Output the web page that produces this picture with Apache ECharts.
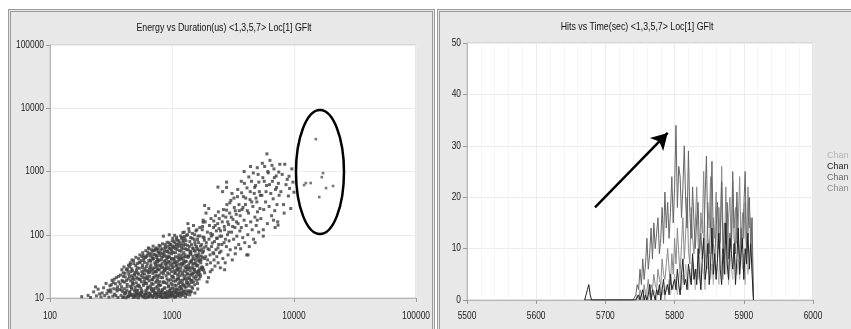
<!DOCTYPE html>
<html><head><meta charset="utf-8">
<script src="https://cdn.jsdelivr.net/npm/echarts@6/dist/echarts.min.js"></script>
<style>
html,body{margin:0;padding:0;background:#fff;overflow:hidden}
.panel{position:absolute;top:9px;height:340px;background:#e8e8e8;border:3px double #9a9a9a;box-sizing:border-box}
#c{position:absolute;left:0;top:0;width:851px;height:329px}
</style>
</head><body>
<div class="panel" style="left:8px;width:427px"></div>
<div class="panel" style="left:437px;width:420px"></div>
<div id="c"></div>
<script>
const FONT = '"Liberation Sans", Arial, sans-serif';
const leftTitle = 'Energy vs Duration(us) <1,3,5,7> Loc[1] GFlt';
const rightTitle = 'Hits vs Time(sec) <1,3,5,7> Loc[1] GFlt';
const durationTicks = [100, 1000, 10000, 100000];
const energyTicks = [10, 100, 1000, 10000, 100000];
const timeTicks = [5500, 5600, 5700, 5800, 5900, 6000];
const hitsTicks = [0, 10, 20, 30, 40, 50];

// Energy vs Duration scatter points [duration(us), energy]
const scatterPoints = [
[182,10.5],[205,11],[215,10.2],[228,12.5],[240,10.8],[248,13.8],[255,11.6],[236,15],
[262,10.4],[268,12],[275,14.5],[281,10.9],[288,17],[293,11.8],[299,13.2],[304,10.3],[310,15.6],[316,12.4],[322,19],[327,10.7],[333,14],[338,11.5],[344,16.8],[350,21],[355,12.9],[361,10.2],[366,18],[372,13.6],[378,23],[358,15],[347,10.9],[330,17.5],[313,13.5],
[382,11],[386,15],[390,19],[394,12.6],[398,25],[402,10.4],[406,14],[410,17.8],[414,21.5],[418,11.9],[422,28],[426,13.2],[430,16.4],[434,10.6],[438,20],[442,24],[446,12.2],[450,31],[454,15.3],[458,18.6],[462,10.9],[466,13.8],[470,22.5],[474,27],[478,11.4],[482,16.9],[486,35],[490,19.6],[494,12.8],[498,14.9],[502,25.5],[506,10.3],[510,17.4],[514,21],[518,30],[522,13.3],[526,11.7],[530,23.8],[534,16],[538,37],[542,19.9],[546,12.1],[440,33],[400,22],[460,26],[420,10.1],[480,20.8],[500,11.2],[520,15.5],[430,29],
[552,10.8],[556,14.2],[561,18],[565,26],[569,12.5],[574,33],[578,21],[583,15.8],[587,40],[592,11.3],[596,24],[601,29],[605,17.2],[610,13.1],[614,45],[619,20.3],[623,10.2],[628,35],[632,15],[637,26.5],[641,12],[646,50],[650,18.7],[655,22],[660,31],[664,11],[669,38],[673,14.3],[678,27],[682,19.5],[687,55],[691,10.5],[696,24.5],[700,16.5],[705,42],[709,13],[714,30],[718,21.5],[723,12.3],[727,58],[732,34],[736,17.7],[741,11.7],[745,26],[750,47],[754,15.2],[759,20],[763,37],[768,10.7],[772,28],[777,13.9],[781,52],[786,23],[790,18.2],[795,32],[580,47],[640,62],[700,66],[760,41],[620,17],[680,13.4],[740,22.8],
[802,11.5],[808,16],[814,25],[820,40],[826,13],[832,60],[838,21],[844,31],[850,10.3],[856,18],[862,48],[868,27],[874,14.5],[880,70],[886,35],[892,12],[898,22.5],[904,55],[910,17],[916,29],[922,44],[928,10.8],[934,38],[940,15.5],[946,75],[952,24],[958,13.2],[964,33],[970,62],[976,19.5],[982,11.2],[988,42],[994,26],[1000,16.2],[1006,80],[1012,30],[1018,12.5],[1024,52],[1030,21],[1036,36],[1042,14],[1048,65],[1054,24.5],[1060,10.6],[1066,45],[1072,18.5],[1078,32],[1084,85],[1090,13.5],[1096,27.5],[1102,58],[1108,20],[1114,38],[1120,11.8],[1126,72],[1132,16.8],[1138,48],[1144,25],[1150,34],[1156,14.8],[850,95],[950,100],[1050,98],[880,28],[1000,41],[1100,29],
[1165,12],[1172,19],[1180,30],[1188,55],[1196,14],[1204,42],[1212,90],[1220,23],[1228,35],[1236,16],[1244,68],[1252,27],[1260,110],[1268,13],[1276,48],[1284,20],[1292,38],[1300,80],[1308,15],[1316,30],[1324,58],[1332,24],[1340,100],[1348,17.5],[1356,44],[1364,33],[1372,125],[1380,21],[1388,65],[1396,13],[1404,52],[1412,27],[1420,90],[1428,19],[1436,38],[1444,70],[1452,15],[1460,30],[1468,105],[1476,24],[1484,46],[1492,60],[1500,18],[1510,35],[1520,85],[1530,28],[1540,12],[1550,55],[1560,40],[1570,115],[1580,22],[1590,65],[1600,32],[1610,47],[1620,17],[1630,95],[1640,26],[1650,75],[1660,38],[1670,20],[1680,56],[1690,130],[1200,62],[1300,45],[1400,36],[1500,140],[1350,150],
[1710,22],[1730,40],[1750,70],[1770,120],[1790,30],[1810,55],[1830,90],[1850,25],[1870,160],[1890,45],[1910,75],[1930,34],[1950,110],[1970,60],[1990,21],[2010,85],[2030,140],[2050,48],[2070,36],[2090,180],[2110,65],[2130,28],[2150,100],[2170,52],[2190,130],[2210,40],[2230,78],[2250,32],[2270,200],[2290,58],[2310,115],[2330,45],[2350,88],[2370,150],[2390,36],[2410,70],[2430,125],[2450,52],[2470,95],[1800,170],[1900,220],[2000,260],[2100,95],[2200,165],[2400,230],[1760,28],[1940,18],[2060,26],[1850,290],
[2490,30],[2520,55],[2550,95],[2580,160],[2610,42],[2640,250],[2670,75],[2700,120],[2730,36],[2760,190],[2790,65],[2820,300],[2850,100],[2880,48],[2910,145],[2940,80],[2970,220],[3000,58],[3040,350],[3080,110],[3120,40],[3160,175],[3200,85],[3240,270],[3280,130],[3320,62],[3360,210],[3400,95],[3440,400],[3480,150],[3520,70],[3560,240],[3600,115],[2800,560],[2600,480],[3100,450],[2700,28],[3300,50],
[3650,60],[3700,130],[3750,250],[3800,90],[3850,400],[3900,170],[3950,75],[4000,300],[4060,140],[4120,550],[4180,100],[4240,220],[4300,65],[4360,360],[4420,160],[4480,700],[4540,120],[4600,280],[4660,85],[4720,450],[4780,190],[4840,600],[4900,140],[4960,330],[5020,230],[5080,900],[5140,110],[5200,480],[5260,260],[3900,1000],[4400,1200],[4200,48],[4800,75],[3700,700],[5000,170],
[5350,180],[5450,420],[5550,800],[5650,250],[5750,1200],[5850,330],[5950,600],[6050,150],[6150,950],[6250,280],[6350,1500],[6450,450],[6550,200],[6650,700],[6750,370],[6850,1100],[6950,240],[7050,520],[7150,850],[7250,300],[7350,160],[7450,650],[7550,420],[7650,1300],[5600,120],[6000,1900],[7000,130],
[7800,480],[8000,900],[8200,300],[8400,1300],[8600,620],[8800,750],[9000,410],[9200,540],[9400,260],[9600,1100],[9800,680],[10000,470],[8300,220],[9100,840],
[395,10.2],[415,12.3],[445,11],[465,14.6],[490,10.6],[515,12.9],[535,10.9],[560,12],[585,10.4],[605,11.5],[625,13.8],[645,10.6],[665,15.5],[690,12.7],[710,10.9],[735,14.3],[755,11.2],[775,16.5],[795,12.4],[815,10.5],[835,13.6],[855,11.4],[875,17.5],[895,10.2],[915,12.8],[935,19],[955,10.9],[975,14],[995,11.6],[1015,22],[1035,10.4],[1055,16],[1075,12.3],[1095,19.5],[1115,10.8],[1135,13.2],[1155,22.5],[1175,15.2],[1195,11.3],[1215,17],[1235,12.6],[1255,20.5],[1275,14.8],[1295,11.7],[1315,18.8],[1335,13],[1355,24],[1375,15.5],[1395,20],[1415,12.4],[1445,17.6],[1475,14.2],[1505,21.5],[1535,16.2],[1565,26],[1595,19],[1625,13.9],[1655,23],[1685,29],
[600,20.8],[640,25],[700,28.5],[760,33],[820,30],[880,39],[940,46],[1000,54],[1060,37],[1120,28],[1180,44],[1240,39],[1300,32],[1360,58],[1420,49],[1480,34],[1540,77],[1600,61],[1660,45],[1720,36],[1780,52],[1840,82],[1900,66],[1960,40],[2020,58],[2080,105],[2140,74],[2200,50],[2260,140],[2320,88],[2380,62],[2440,180],[2500,115],[2560,70],[2620,200],[2680,135],[2740,85],[2800,245],[2860,160],[2920,110],[2980,320],[3060,190],[3140,135],[3220,380],[3300,240],[3380,160],[3460,520],[3540,300],[3620,200],[3720,460],[3820,270],[3920,650],[4020,380],[4140,240],[4260,820],[4380,480],[4500,330],[4640,950],[4760,560],[4880,380],[5000,1150],[5150,680],[5300,420],[5500,1350],[5700,700],[5900,480],[6100,1000],[6300,620],[6600,1250],[6900,800],[7200,560],[7500,980],
[2380,567],[2800,680],[1800,158],[1230,82],[750,59],[800,52],[7400,142],[6800,170],[4100,48],[5600,95],
[305,12.8],[318,16.2],[336,19.8],[352,13.8],[364,22],[376,16.6],[388,28],[396,18.2],[404,31],[412,24.5],[424,19],[436,26.5],[448,21.8],[456,34],[468,29],[476,17.6],[484,39],[492,24],[504,32.5],[512,27.5],[524,20],[532,42],[540,29.5],[548,36],[558,22.5],[566,45],[572,30.5],[586,27],[594,36.5],[608,44],[616,31.5],[626,22],[634,53],[644,39],[652,28.5],[662,46],[672,33.5],[684,58],[694,41],[702,21],[712,49],[722,36],[730,26],[738,62],[748,44],[758,29],[766,54],[774,39],[784,68],[792,47],[806,33],[812,58],[824,44],[836,72],[846,26],[858,52],[866,38],[878,64],[890,46],[900,31],[912,76],[920,54],[930,36],[944,60],[956,44],[966,28],[978,70],[990,50],[1004,34],[1014,88],[1022,62],[1032,42],[1044,27],[1058,74],[1068,52],[1080,36],[1092,92],[1104,64],[1116,44],[1128,30],[1140,80],[1152,56],[1162,40],[1178,96],[1190,68],[1202,48],[1214,33],[1226,108],[1238,76],[1250,52],[1262,36],[1278,86],[1290,60],[1302,26],[1320,98],[1338,68],[1352,46],[1366,30],[1384,112],[1400,78],[1416,55],[1432,38],[1448,24],[1464,88],[1480,62],[1496,42],[1514,28],[1532,100],[1548,70],[1564,48],[1580,33],[1600,120],[1618,84],[1636,58],[1654,40],[1672,26],[1694,96],[1712,66],[1734,46],[1756,30],[1780,135],[1800,92],[1824,62],[1846,42],
[384,13.4],[408,11.6],[428,15],[452,12.6],[472,16.2],[496,13.5],[516,11.4],[540,15.2],[564,13.2],[590,16.8],[612,12.2],[636,14.5],[658,11.8],[682,17],[704,14],[726,11.6],[750,18.5],[770,13],[792,15.8],[818,12.2],[842,17.8],[864,14.2],[890,11.9],[910,20],[932,15],[958,12.4],[980,17.2],[1008,14.4],[1030,18.6],[1052,12.8],[1080,15.6],[1104,13.9],[1130,20.5],[1160,17.6],[1190,13.8],[1222,19],[1250,15.8],[1280,22.5],[1310,17],[1345,20.6],[1380,16.6],[1420,23],[1460,19],[1500,25],[1550,20.5],[1600,24.5],[1650,27],[1700,23.5],[1760,31],[1820,27.5],
[455,36],[470,40],[505,44],[520,35],[545,48],[560,39],[575,52],[590,43],[610,56],[625,47],[650,60],[665,40],[675,50],[690,45],[715,56],[730,48],[745,38],[770,60],[785,40],[800,66],[830,50],[845,45],[870,56],[885,62],[905,42],[925,66],[945,52],[965,70],[985,58],[1010,66],[1040,78],[1065,60],[1090,70],[1110,82],[1145,66],[1170,74],[1200,88],[1230,60],[1265,94],[1285,70],
[470,20],[495,23],[525,25],[550,19.5],[575,24],[595,18.6],[615,27],[635,20],[655,25.5],[675,30],[695,19.4],[720,26],[742,31],[765,22],[785,28],[810,21],[830,35],[850,24],[870,29],[895,34],[920,25],[945,30],[970,37],[995,22],[1020,31],[1045,40],[1065,25],[1090,33],[1110,23],[1140,42],[1170,27],[1195,35],[1220,25],[1250,44],[1280,30],[1310,38],[1340,28],[1370,46],[1400,30],[1430,52],[1460,40],[1490,30],[1520,56],[1560,36],[1590,44],[1630,33],[1660,50],[1700,40],[1740,58],[1780,44],
[438,10.5],[458,11.4],[482,10.2],[508,11.8],[530,10.1],[555,11.3],[578,10.6],[600,10.1],[620,11],[650,10.4],[672,11.2],[700,10.3],[720,11.5],[745,10.2],[765,12],[790,10.6],[810,11.3],[830,10.2],[860,12.1],[885,10.6],[905,11.5],[925,10.3],[950,11.8],[970,10.5],[990,12.3],[1012,10.8],[1040,11.6],[1065,10.3],[1085,12],[1110,11],[1140,11.7],[1170,10.6],[1200,12.2],[1230,11],[1260,11.9],[1290,10.4],[1330,11.4],[1360,12.4],[1400,11.2],[1440,12.6]
];
// points inside the circled region
const circledPoints = [[15100,3250],[17300,944],[16900,815],[12100,610],[12500,657],[13700,657],[18300,547],[20900,590],[16100,394]];
const ellipseCenter = [16330, 980];

// Hits vs Time
const timeBins = [5670,5672,5674,5676,5678,5680,
5740,5742,5744,5746,5748,5750,5752,5754,5756,5758,5760,5762,5764,5766,5768,5770,5772,5774,5776,5778,5780,5782,5784,5786,5788,5790,5792,5794,5796,5798,5800,5802,5804,5806,5808,5810,5812,5814,5816,5818,5820,5822,5824,5826,5828,5830,5832,5834,5836,5838,5840,5842,5844,5846,5848,5850,5852,5854,5856,5858,5860,5862,5864,5866,5868,5870,5872,5874,5876,5878,5880,5882,5884,5886,5888,5890,5892,5894,5896,5898,5900,5902,5904,5906,5908,5910,5912,5914];
const chanLight = [0,0,0,0,0,0,
0,0,0,0,0,1,0,0,1,0,2,0,1,0,1,2,
1,0,2,1,3,1,2,0,3,2,4,1,3,2,5,
3,1,4,6,2,5,3,7,4,2,6,3,8,5,2,
6,4,9,3,7,5,2,8,6,10,4,7,3,9,5,
7,3,11,6,4,8,5,12,3,9,6,4,10,7,5,
8,4,11,6,9,3,10,5,7,12,6,0];
const chanDark = [0,0,2,3,1,0,
0,0,0,0,1,0,0,2,0,1,0,1,3,0,2,1,
0,2,1,3,0,2,4,1,2,3,1,5,2,3,4,
2,6,3,1,5,8,3,4,2,7,5,3,9,4,6,
3,10,5,2,8,12,4,6,11,3,7,14,5,9,4,
8,13,6,3,10,5,15,7,4,12,9,6,11,3,8,
14,5,9,12,4,10,7,13,6,11,5,0];
const chanMid = [0,0,0,0,0,0,
0,0,1,3,2,6,3,8,4,7,
12,6,9,14,8,15,10,13,16,9,
12,18,11,21,14,19,12,17,24,15,
22,34,18,26,24,16,22,30,19,14,
29,17,12,22,15,10,16,19,9,13,
8,11,20,28,12,9,15,27,11,8,
14,19,10,12,23,9,15,11,19,8,
13,10,25,12,9,21,11,8,14,10,
18,25,9,13,20,11,16,0];
const chanGray = [0,0,0,0,0,0,
0,0,0,1,0,2,1,0,3,1,2,4,1,3,2,5,
3,2,6,4,3,8,5,4,7,10,6,3,9,5,12,
7,14,9,5,11,16,8,13,20,10,7,18,12,9,15,
22,11,8,17,13,25,10,6,19,14,24,9,16,12,21,
8,18,11,26,13,7,22,10,16,20,9,23,14,18,11,
15,24,10,17,12,19,8,22,14,16,9,0];
const legendLabels = ['Chan','Chan','Chan','Chan'];
const arrowStart = [5685, 18];
const arrowEnd = [5790, 32.5];

const chart = echarts.init(document.getElementById('c'), null, {renderer:'canvas'});
const splitL = {show: true, lineStyle: {color: '#ececec', width: 1}};
const tickS = {show: true, length: 4, lineStyle: {color: '#999'}};
const axLine = {show: true, lineStyle: {color: '#b5b5b5'}};
const noLbl = {show: false};

const chanColors = ['#b4b4b4', '#222222', '#666666', '#8a8a8a'];
const chanData = [chanLight, chanDark, chanMid, chanGray];
const chanIds = ['Chan 1','Chan 2','Chan 3','Chan 4'];
const drawOrder = [3, 0, 2, 1];

const lineSeries = drawOrder.map(k => ({
  type: 'line', name: chanIds[k], xAxisIndex: 1, yAxisIndex: 1,
  data: timeBins.map((t, i) => [t, chanData[k][i]]),
  showSymbol: false, symbol: 'none',
  lineStyle: {color: chanColors[k], width: 1},
  itemStyle: {color: chanColors[k]},
  z: 3
}));
lineSeries.push({
  type: 'line', name: 'arrow', xAxisIndex: 1, yAxisIndex: 1, data: [],
  markLine: {
    silent: true, symbol: ['none', 'arrow'], symbolSize: [14, 16],
    label: {show: false},
    lineStyle: {color: '#000', width: 2.5, type: 'solid'},
    data: [[{coord: arrowStart}, {coord: arrowEnd}]]
  }, z: 5
});

chart.setOption({
  animation: false,
  backgroundColor: 'transparent',
  textStyle: {fontFamily: FONT},
  legend: {
    orient: 'vertical', left: 817, top: 146, itemGap: 2, itemWidth: 0, itemHeight: 0,
    selectedMode: false, formatter: (n) => legendLabels[chanIds.indexOf(n)],
    textStyle: {fontFamily: FONT, fontSize: 9, padding: 0},
    data: chanIds.map((n, k) => ({name: n, icon: 'rect', textStyle: {color: chanColors[k]}}))
  },
  grid: [
    {left: 50, top: 45, width: 366, height: 253, show: true, backgroundColor: '#fff', borderColor: '#c8c8c8', borderWidth: 1},
    {left: 467, top: 43, width: 346, height: 257, show: true, backgroundColor: '#fff', borderColor: '#c8c8c8', borderWidth: 1}
  ],
  xAxis: [
    {type: 'log', logBase: 10, min: 100, max: 100000, gridIndex: 0,
     axisLine: axLine, axisTick: tickS, splitLine: splitL, axisLabel: noLbl},
    {type: 'value', min: 5500, max: 6000, interval: 100, gridIndex: 1,
     axisLine: axLine, axisTick: tickS, splitLine: splitL,
     minorTick: {show: false, splitNumber: 5}, minorSplitLine: {show: true, lineStyle: {color: '#f5f5f5'}},
     axisLabel: noLbl}
  ],
  yAxis: [
    {type: 'log', logBase: 10, min: 10, max: 100000, gridIndex: 0,
     axisLine: axLine, axisTick: tickS, splitLine: splitL, axisLabel: noLbl},
    {type: 'value', min: 0, max: 50, interval: 10, gridIndex: 1,
     axisLine: axLine, axisTick: tickS, splitLine: splitL, axisLabel: noLbl}
  ],
  series: [
    {type: 'scatter', name: 'pts', xAxisIndex: 0, yAxisIndex: 0, data: scatterPoints,
     symbol: 'rect', symbolSize: 3, itemStyle: {color: '#3e3e3e'}, z: 3},
    {type: 'scatter', name: 'circled', xAxisIndex: 0, yAxisIndex: 0, data: circledPoints,
     symbol: 'rect', symbolSize: 2.6, itemStyle: {color: '#555'}, z: 3}
  ].concat(lineSeries)
});

// condensed text labels (Arial Narrow look) positioned from the axes
const SX = 0.8;
function txt(text, x, y, align, vAlign, size, color) {
  return {type: 'text', x: x, y: y, scaleX: SX, z: 20, silent: true,
    style: {text: text, fontFamily: FONT, fontSize: size, fill: color, align: align, verticalAlign: vAlign}};
}
const g = [];
const gl = chart.getModel().getComponent('grid', 0).coordinateSystem.getRect();
const gr = chart.getModel().getComponent('grid', 1).coordinateSystem.getRect();
g.push(txt(leftTitle, 224, 28, 'center', 'middle', 11, '#111'));
g.push(txt(rightTitle, 637, 27, 'center', 'middle', 11, '#111'));
durationTicks.forEach(v => {
  const px = chart.convertToPixel({xAxisIndex: 0}, v);
  g.push(txt(String(v), px, gl.y + gl.height + 18, 'center', 'middle', 10.5, '#1a1a1a'));
});
energyTicks.forEach(v => {
  const py = chart.convertToPixel({yAxisIndex: 0}, v);
  g.push(txt(String(v), gl.x - 6, py, 'right', 'middle', 10.5, '#1a1a1a'));
});
timeTicks.forEach(v => {
  const px = chart.convertToPixel({xAxisIndex: 1}, v);
  g.push(txt(String(v), px, gr.y + gr.height + 16, 'center', 'middle', 10.5, '#1a1a1a'));
});
hitsTicks.forEach(v => {
  const py = chart.convertToPixel({yAxisIndex: 1}, v);
  g.push(txt(String(v), gr.x - 6, py, 'right', 'middle', 10.5, '#1a1a1a'));
});
const c = chart.convertToPixel({gridIndex: 0}, ellipseCenter);
g.push({type: 'ellipse', shape: {cx: c[0], cy: c[1], rx: 24, ry: 62},
  style: {stroke: '#000', lineWidth: 2.5, fill: null}, z: 10});
chart.setOption({graphic: g});
</script>
</body></html>
